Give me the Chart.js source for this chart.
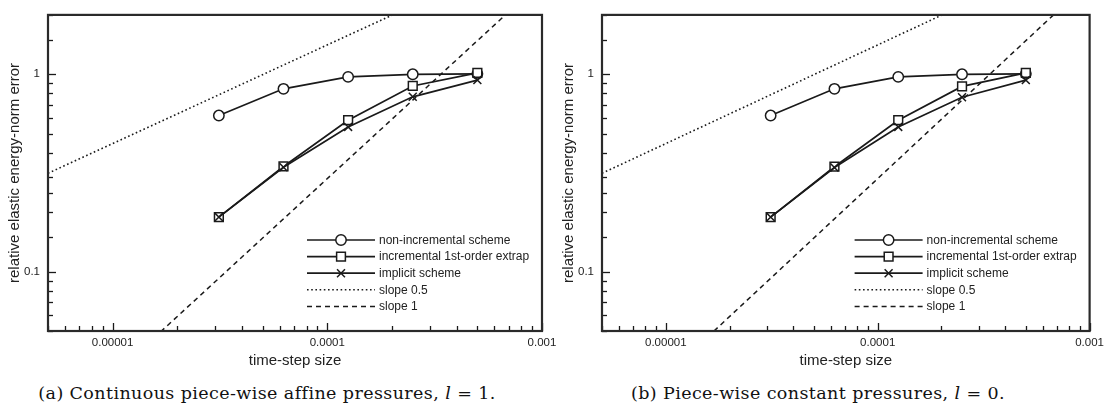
<!DOCTYPE html>
<html lang="en">
<head>
<meta charset="UTF-8">
<title>Energy-norm error vs time-step size</title>
<script src="https://cdn.jsdelivr.net/npm/chart.js"></script>
<style>
  body { margin: 0; background: #fff; width: 1109px; height: 414px; position: relative; overflow: hidden; }
  .panel { position: absolute; top: 0; }
  .caption {
    position: absolute; top: 383px;
    font-family: "DejaVu Serif", serif; font-size: 17.5px; letter-spacing: 0.4px; color: #111;
    white-space: nowrap; transform: translateX(-50%);
  }
</style>
</head>
<body>

<div class="panel" style="left:0"><canvas id="chartA" width="575" height="370"></canvas></div>
<div class="panel" style="left:554px"><canvas id="chartB" width="555" height="370"></canvas></div>
<div class="caption" style="left:267px">(a) Continuous piece-wise affine pressures, <i>l</i> = 1.</div>
<div class="caption" style="left:818px">(b) Piece-wise constant pressures, <i>l</i> = 0.</div>

<script>
    // time-step sizes (x)
    const timeSteps = [3.125e-5, 6.25e-5, 1.25e-4, 2.5e-4, 5e-4];

    // (a) continuous affine pressures, l = 1
    const nonIncrementalA = [0.618, 0.844, 0.970, 1.000, 1.005];
    const incrementalA    = [0.189, 0.341, 0.585, 0.873, 1.016];
    const implicitA       = [0.189, 0.338, 0.541, 0.769, 0.935];

    // (b) constant pressures, l = 0
    const nonIncrementalB = [0.618, 0.844, 0.970, 1.000, 1.005];
    const incrementalB    = [0.189, 0.340, 0.585, 0.868, 1.016];
    const implicitB       = [0.189, 0.337, 0.541, 0.765, 0.935];

    // reference slopes, end points outside the box (clipped)
    const slopeX    = [5e-6, 1e-3];
    const slopeHalf = [0.315, 4.455];
    const slopeOne  = [0.0148, 2.96];

    // axis labels
    const xLabelValues = [1e-5, 1e-4, 1e-3];
    const xTickLabels  = ['0.00001', '0.0001', '0.001'];
    const yLabelValues = [0.1, 1];
    const yTickLabels  = ['0.1', '1'];

    // minor tick mantissas per decade
    const xMantissas = [1, 2, 3, 4, 5, 6, 7, 8, 9];
    const yMantissas = [1, 1.5, 2, 2.5, 3, 4, 5, 6, 7, 8, 9];

    const INK = '#1a1a1a';
    const FONT = "'Liberation Sans', Arial, sans-serif";

    function sameValue(a, b) {
        return Math.abs(Math.log10(a) - Math.log10(b)) < 1e-6;
    }
    function isDecade(v) {
        return Math.abs(Math.log10(v) - Math.round(Math.log10(v))) < 1e-6;
    }
    // m x 10^e inside [min, max]
    function logTicks(min, max, mantissas) {
        const out = [];
        for (let e = Math.floor(Math.log10(min)); e <= Math.ceil(Math.log10(max)); e++) {
            mantissas.forEach(m => {
                const v = m * Math.pow(10, e);
                if (v >= min * 0.9999 && v <= max * 1.0001) out.push({ value: v });
            });
        }
        return out;
    }
    function pairs(xs, ys) {
        return xs.map((x, i) => ({ x: x, y: ys[i] }));
    }

    // inward tick marks + frame
    const frameAndTicks = {
        id: 'frameAndTicks',
        afterDatasetsDraw(chart) {
            const { ctx, chartArea: a, scales: { x, y } } = chart;
            ctx.save();
            ctx.strokeStyle = INK;
            ctx.lineWidth = 1.3;
            x.ticks.forEach(t => {
                const px = Math.round(x.getPixelForValue(t.value)) + 0.5;
                const len = isDecade(t.value) ? 8 : 5;
                ctx.beginPath();
                ctx.moveTo(px, a.bottom);
                ctx.lineTo(px, a.bottom - len);
                ctx.stroke();
            });
            y.ticks.forEach(t => {
                const py = Math.round(y.getPixelForValue(t.value)) + 0.5;
                const len = isDecade(t.value) ? 8 : 5;
                ctx.beginPath();
                ctx.moveTo(a.left, py);
                ctx.lineTo(a.left + len, py);
                ctx.stroke();
            });
            ctx.lineWidth = 2.2;
            ctx.strokeStyle = '#2a2a2a';
            ctx.strokeRect(a.left, a.top, a.right - a.left, a.bottom - a.top);
            ctx.restore();
        }
    };

    // legend: line sample with marker in the middle, lower right of the box
    const lineLegend = {
        id: 'lineLegend',
        afterDraw(chart) {
            const { ctx, chartArea: a } = chart;
            const x0 = a.right - 235, x1 = a.right - 167, tx = a.right - 163;
            ctx.save();
            ctx.font = '12px ' + FONT;
            ctx.textBaseline = 'middle';
            chart.data.datasets.forEach((ds, i) => {
                const yy = a.bottom - 91 + i * 16.6;
                ctx.strokeStyle = INK;
                ctx.lineWidth = ds.borderWidth;
                ctx.setLineDash(ds.borderDash || []);
                ctx.beginPath();
                ctx.moveTo(x0, yy);
                ctx.lineTo(x1, yy);
                ctx.stroke();
                ctx.setLineDash([]);
                const mx = (x0 + x1) / 2, r = ds.pointRadius;
                ctx.lineWidth = ds.pointBorderWidth || 1.5;
                if (r > 0) {
                    ctx.fillStyle = '#fff';
                    ctx.beginPath();
                    if (ds.pointStyle === 'circle') {
                        ctx.arc(mx, yy, r, 0, Math.PI * 2);
                        ctx.fill(); ctx.stroke();
                    } else if (ds.pointStyle === 'rect') {
                        const s = r * Math.SQRT1_2;
                        ctx.rect(mx - s, yy - s, 2 * s, 2 * s);
                        ctx.fill(); ctx.stroke();
                    } else {
                        const s = r * Math.SQRT1_2;
                        ctx.moveTo(mx - s, yy - s); ctx.lineTo(mx + s, yy + s);
                        ctx.moveTo(mx - s, yy + s); ctx.lineTo(mx + s, yy - s);
                        ctx.stroke();
                    }
                }
                ctx.fillStyle = '#222';
                ctx.fillText(ds.label, tx, yy + 0.5);
            });
            ctx.restore();
        }
    };

    function makeChart(canvasId, nonInc, inc, impl, padRight) {
        const ctx = document.getElementById(canvasId).getContext('2d');
        const marker = { borderColor: INK, borderWidth: 1.7, pointBorderWidth: 1.5,
                         pointBackgroundColor: '#fff', pointBorderColor: INK, fill: false, tension: 0 };
        return new Chart(ctx, {
            type: 'line',
            data: {
                datasets: [
                    Object.assign({ label: 'non-incremental scheme', data: pairs(timeSteps, nonInc),
                                    pointStyle: 'circle', pointRadius: 5.2, order: 3 }, marker),
                    Object.assign({ label: 'incremental 1st-order extrap', data: pairs(timeSteps, inc),
                                    pointStyle: 'rect', pointRadius: 6.2, order: 2 }, marker),
                    Object.assign({ label: 'implicit scheme', data: pairs(timeSteps, impl),
                                    pointStyle: 'crossRot', pointRadius: 5.6, order: 1 }, marker),
                    { label: 'slope 0.5', data: pairs(slopeX, slopeHalf), borderColor: INK, borderWidth: 1.6,
                      borderDash: [1.6, 2.6], pointRadius: 0, order: 5 },
                    { label: 'slope 1', data: pairs(slopeX, slopeOne), borderColor: INK, borderWidth: 1.5,
                      borderDash: [5, 4], pointRadius: 0, order: 4 }
                ]
            },
            options: {
                responsive: false,
                animation: false,
                events: [],
                layout: { padding: { top: 5, right: padRight, bottom: 0, left: 0 } },
                plugins: { legend: { display: false }, tooltip: { enabled: false } },
                scales: {
                    x: {
                        type: 'logarithmic', min: 5e-6, max: 1e-3,
                        grid: { display: false, drawTicks: false },
                        border: { display: false },
                        afterBuildTicks: s => { s.ticks = logTicks(5e-6, 1e-3, xMantissas); },
                        afterFit: s => { s.height = 39; },
                        ticks: {
                            autoSkip: false, maxRotation: 0, padding: 5, color: '#222',
                            font: { family: FONT, size: 11.5 },
                            callback: v => {
                                const i = xLabelValues.findIndex(l => sameValue(l, v));
                                return i >= 0 ? xTickLabels[i] : '';
                            }
                        },
                        title: { display: true, text: 'time-step size', color: '#222',
                                 font: { family: FONT, size: 15 }, padding: { top: 0, bottom: 0 } }
                    },
                    y: {
                        type: 'logarithmic', min: 0.05, max: 2,
                        grid: { display: false, drawTicks: false },
                        border: { display: false },
                        afterBuildTicks: s => { s.ticks = logTicks(0.05, 2, yMantissas); },
                        afterFit: s => { s.width = 48; },
                        ticks: {
                            autoSkip: false, padding: 8, color: '#222',
                            font: { family: FONT, size: 11.5 },
                            callback: v => {
                                const i = yLabelValues.findIndex(l => sameValue(l, v));
                                return i >= 0 ? yTickLabels[i] : '';
                            }
                        },
                        title: { display: true, text: 'relative elastic energy-norm error', color: '#222',
                                 font: { family: FONT, size: 15 }, padding: { top: 6, bottom: 0 } }
                    }
                }
            },
            plugins: [frameAndTicks, lineLegend]
        });
    }

    makeChart('chartA', nonIncrementalA, incrementalA, implicitA, 33);
    makeChart('chartB', nonIncrementalB, incrementalB, implicitB, 13);
</script>

</body>
</html>
